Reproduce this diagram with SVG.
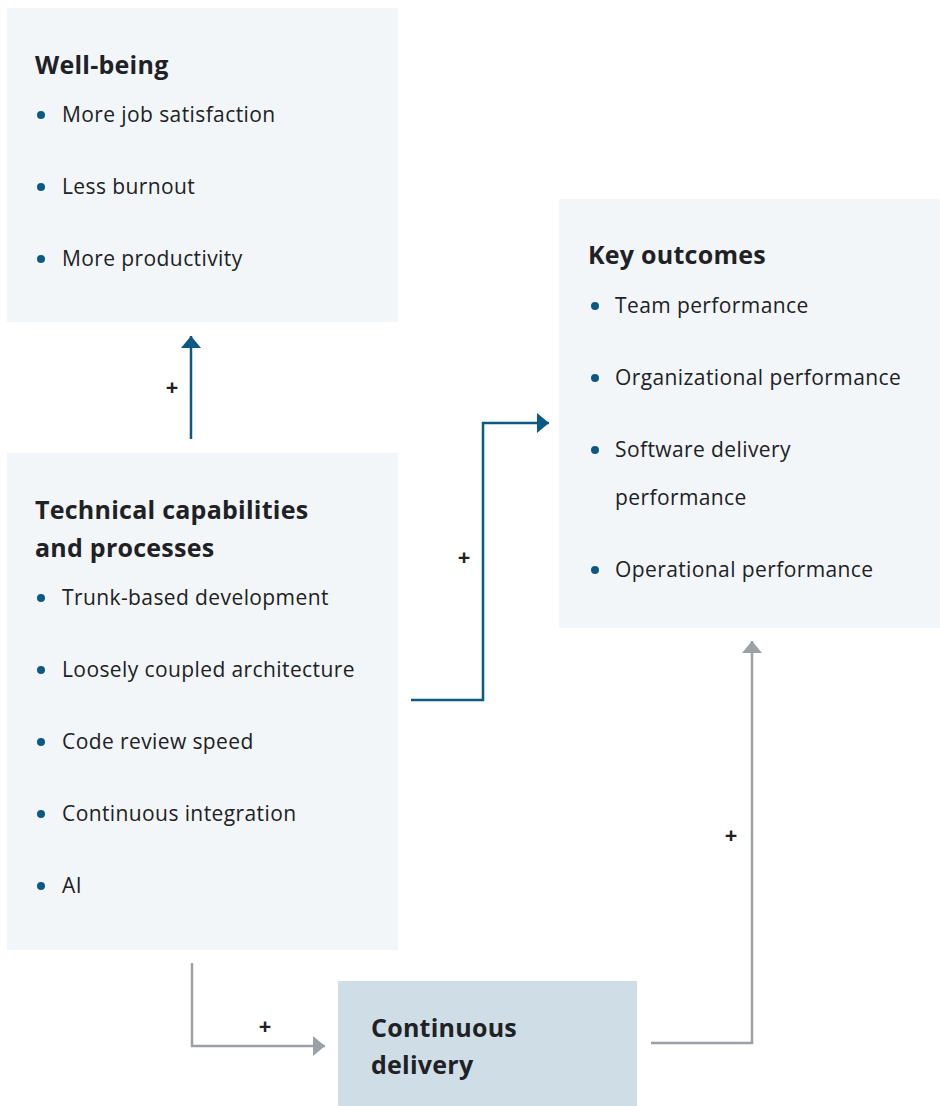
<svg xmlns="http://www.w3.org/2000/svg" width="940" height="1106" viewBox="0 0 940 1106">
<style>
.box{fill:#f3f6f9}
.cd{fill:#cfdde6}
.t{font-family:"Open Sans","Liberation Sans",sans-serif;font-size:25px;font-weight:700;letter-spacing:0.25px;fill:#202124}
.i{font-family:"Open Sans","Liberation Sans",sans-serif;font-size:21px;letter-spacing:0.4px;fill:#202124}
.b{fill:#0b5a86}
.p{font-family:"Open Sans","Liberation Sans",sans-serif;font-size:22px;font-weight:700;fill:#202124;text-anchor:middle}
.blue{fill:none;stroke:#0b5a86;stroke-width:2.5}
.gray{fill:none;stroke:#9aa0a6;stroke-width:2.5}
</style>
<defs>
<marker id="ab" viewBox="0 0 12 20" refX="12" refY="10" markerWidth="12" markerHeight="20" markerUnits="userSpaceOnUse" orient="auto"><path d="M0,0 L12,10 L0,20 Z" fill="#0b5a86"/></marker>
<marker id="ag" viewBox="0 0 12 20" refX="12" refY="10" markerWidth="12" markerHeight="20" markerUnits="userSpaceOnUse" orient="auto"><path d="M0,0 L12,10 L0,20 Z" fill="#9aa0a6"/></marker>
</defs>
<rect width="940" height="1106" fill="#ffffff"/>
<g id="wellbeing">
<rect class="box" x="7" y="8" width="391" height="314"/>
<text class="t" x="35" y="74">Well-being</text>
<circle class="b" cx="41" cy="115" r="4"/><text class="i" x="62" y="122">More job satisfaction</text>
<circle class="b" cx="41" cy="187" r="4"/><text class="i" x="62" y="194">Less burnout</text>
<circle class="b" cx="41" cy="259" r="4"/><text class="i" x="62" y="266">More productivity</text>
</g>
<g id="technical">
<rect class="box" x="7" y="453" width="391" height="497"/>
<text class="t" x="35" y="519">Technical capabilities</text>
<text class="t" x="35" y="557">and processes</text>
<circle class="b" cx="41" cy="598" r="4"/><text class="i" x="62" y="605">Trunk-based development</text>
<circle class="b" cx="41" cy="670" r="4"/><text class="i" x="62" y="677">Loosely coupled architecture</text>
<circle class="b" cx="41" cy="742" r="4"/><text class="i" x="62" y="749">Code review speed</text>
<circle class="b" cx="41" cy="814" r="4"/><text class="i" x="62" y="821">Continuous integration</text>
<circle class="b" cx="41" cy="886" r="4"/><text class="i" x="62" y="893">AI</text>
</g>
<g id="keyoutcomes">
<rect class="box" x="559" y="199" width="381" height="429"/>
<text class="t" x="588" y="264">Key outcomes</text>
<circle class="b" cx="595" cy="306" r="4"/><text class="i" x="615" y="313">Team performance</text>
<circle class="b" cx="595" cy="378" r="4"/><text class="i" x="615" y="385">Organizational performance</text>
<circle class="b" cx="595" cy="450" r="4"/><text class="i" x="615" y="457">Software delivery</text>
<text class="i" x="615" y="505">performance</text>
<circle class="b" cx="595" cy="570" r="4"/><text class="i" x="615" y="577">Operational performance</text>
</g>
<g id="continuousdelivery">
<rect class="cd" x="338" y="981" width="299" height="125"/>
<text class="t" x="371" y="1037">Continuous</text>
<text class="t" x="371" y="1074">delivery</text>
</g>
<g id="connectors">
<path class="blue" d="M191,439 V336" marker-end="url(#ab)"/>
<text class="p" x="172" y="395">+</text>
<path class="blue" d="M411,700 H483 V423 H549" marker-end="url(#ab)"/>
<text class="p" x="464" y="565">+</text>
<path class="gray" d="M192,963 V1046 H325" marker-end="url(#ag)"/>
<text class="p" x="265" y="1034">+</text>
<path class="gray" d="M651,1043 H752 V641" marker-end="url(#ag)"/>
<text class="p" x="731" y="843">+</text>
</g>
</svg>
